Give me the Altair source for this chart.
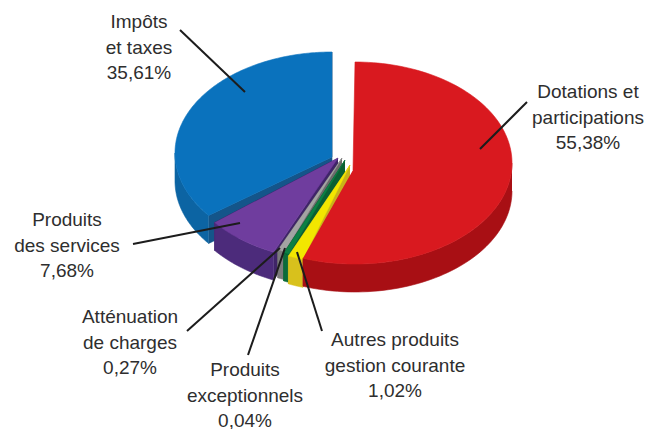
import math
import numpy as np
import pandas as pd
import altair as alt

# values printed on the chart (percent), clockwise from the top
names = ["Dotations", "Autres", "Exceptionnels", "Attenuation", "Services", "Impots"]
values = [55.38, 1.02, 0.04, 0.27, 7.68, 35.61]
# the tiny slices are drawn wider than their share in the original
drawn_share = [55.38, 1.55, 0.55, 0.70, 7.68, 35.61]

label_lines = [
    ["Dotations et", "participations", "55,38%"],
    ["Autres produits", "gestion courante", "1,02%"],
    ["Produits", "exceptionnels", "0,04%"],
    ["Atténuation", "de charges", "0,27%"],
    ["Produits", "des services", "7,68%"],
    ["Impôts", "et taxes", "35,61%"],
]

# layout (image pixels)
W, H = 652, 429
A, B, DEPTH = 157, 101, 28
centers = [(355, 163), (350, 163), (345, 160), (343, 158), (338, 160), (332, 153)]
apexes = [(353, 170), (350, 165), (345, 160), (342, 158), (338, 158), (332, 157)]
ends = [360 * sum(values[:i + 1]) / 100 for i in range(6)]
starts = [0, 197.5, 201, 202, 204.2, ends[4]]
stops = [ends[0], 197.5 + 360 * drawn_share[1] / 100, 201 + 360 * drawn_share[2] / 100,
         202 + 360 * drawn_share[3] / 100, ends[4], 360]
top_colors = ["#d9191f", "#f2e600", "#0c8044", "#a3a3a3", "#6f3d9e", "#0a72bd"]
wall_colors = ["#a80f14", "#d8c11c", "#0b6b3a", "#7c7c7c", "#4c2b7b", "#0c64a3"]
side_colors = ["#a80f14", "#c9b21a", "#0a5f33", "#6b6b6b", "#3f2468", "#14558a"]
label_pos = [(588, 92), (395, 340), (245, 370), (130, 317), (67, 220), (139, 22)]
LINE_GAP = 25.5
leaders = [
    ((527, 102), (480, 149)),
    ((322, 331), (297, 252)),
    ((248, 355), (285, 248)),
    ((187, 331), (280, 248)),
    ((133, 244), (240, 223)),
    ((180, 30), (245, 92)),
]


def rim(i, t0, t1, n=60, dy=0):
    cx, cy = centers[i]
    ts = np.radians(np.linspace(t0, t1, n))
    return list(zip(cx + A * np.sin(ts), cy - B * np.cos(ts) + dy))


def frame(points):
    return pd.DataFrame({"x": [p[0] for p in points], "y": [p[1] for p in points],
                         "i": range(len(points))})


x_scale = alt.Scale(domain=[8, W - 8], range=[0, W - 16], nice=False, zero=False)
y_scale = alt.Scale(domain=[8, H], range=[0, H - 8], nice=False, zero=False)


def poly(points, color):
    return alt.Chart(frame(points)).mark_line(
        fill=color, stroke=color, strokeWidth=0.6, clip=False
    ).encode(
        x=alt.X("x:Q", scale=x_scale, axis=None),
        y=alt.Y("y:Q", scale=y_scale, axis=None),
        order=alt.Order("i:Q"),
    )


layers = []
for i in [5, 4, 3, 2, 1, 0]:
    t0, t1 = starts[i], stops[i]
    ax, ay = apexes[i]
    # radial walls
    if i != 0:
        e = rim(i, t1, t1, 1)[0]
        layers.append(poly([(ax, ay), e, (e[0], e[1] + DEPTH), (ax, ay + DEPTH)], side_colors[i]))
        s = rim(i, t0, t0, 1)[0]
        layers.append(poly([(ax, ay), s, (s[0], s[1] + DEPTH), (ax, ay + DEPTH)], side_colors[i]))
    # outer wall, only the front half of the rim
    v0, v1 = max(t0, 90), min(t1, 270)
    if v1 > v0:
        up = rim(i, v0, v1)
        down = rim(i, v0, v1, dy=DEPTH)
        layers.append(poly(up + down[::-1], wall_colors[i]))
    # top face
    layers.append(poly([(ax, ay)] + rim(i, t0, t1, 120), top_colors[i]))

# leader lines
for (p, q) in leaders:
    layers.append(
        alt.Chart(frame([p, q])).mark_line(color="#1c1c1c", strokeWidth=2).encode(
            x=alt.X("x:Q", scale=x_scale, axis=None),
            y=alt.Y("y:Q", scale=y_scale, axis=None),
            order=alt.Order("i:Q"),
        )
    )

# labels
rows = []
for lines, (lx, ly) in zip(label_lines, label_pos):
    for k, line in enumerate(lines):
        rows.append({"x": lx, "y": ly + k * LINE_GAP, "t": line})
layers.append(
    alt.Chart(pd.DataFrame(rows)).mark_text(
        font="Liberation Sans", fontSize=19, color="#2e2e2e", align="center", baseline="middle"
    ).encode(
        x=alt.X("x:Q", scale=x_scale, axis=None),
        y=alt.Y("y:Q", scale=y_scale, axis=None),
        text="t:N",
    )
)

chart = alt.layer(*layers).properties(
    width=W - 16, height=H - 8, padding=0, background="white",
    autosize=alt.AutoSizeParams(type="none"),
).configure_view(stroke=None)

chart.save("out.html", embed_options={"renderer": "svg", "actions": False})
